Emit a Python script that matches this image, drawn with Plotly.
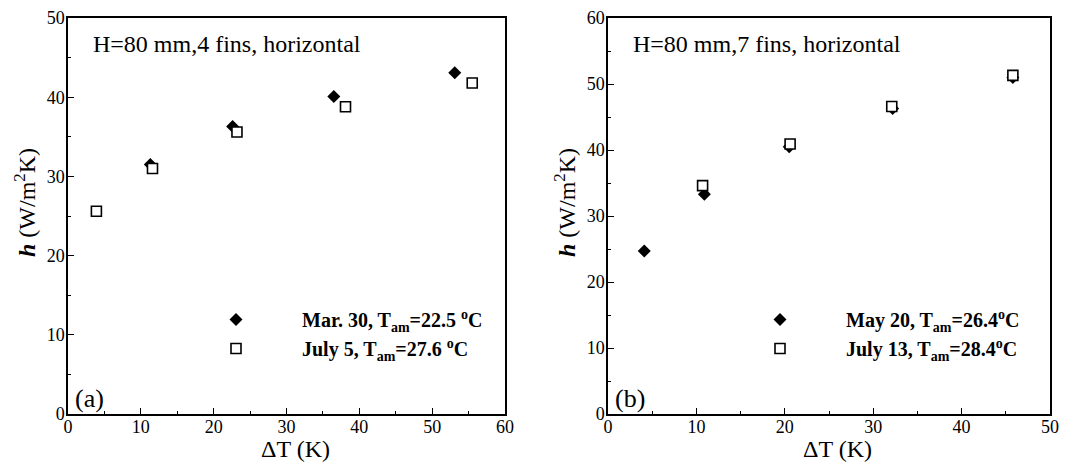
import plotly.graph_objects as go

# Panel (a): H=80 mm, 4 fins
a_mar_x = [11.3, 22.6, 36.5, 53.1]
a_mar_y = [31.5, 36.3, 40.1, 43.1]
a_jul_x = [3.9, 11.6, 23.2, 38.1, 55.5]
a_jul_y = [25.6, 31.0, 35.6, 38.8, 41.8]

# Panel (b): H=80 mm, 7 fins
b_may_x = [4.1, 10.9, 20.5, 32.2, 45.8]
b_may_y = [24.7, 33.3, 40.5, 46.3, 51.0]
b_jul_x = [10.7, 20.6, 32.1, 45.8]
b_jul_y = [34.6, 40.9, 46.6, 51.3]

names_a = ["<b>Mar. 30, T<sub>am</sub>=22.5 <sup>o</sup>C</b>", "<b>July 5, T<sub>am</sub>=27.6 <sup>o</sup>C</b>"]
names_b = ["<b>May 20, T<sub>am</sub>=26.4<sup>o</sup>C</b>", "<b>July 13, T<sub>am</sub>=28.4<sup>o</sup>C</b>"]
panel_titles = ["H=80 mm,4 fins, horizontal", "H=80 mm,7 fins, horizontal"]
panel_tags = ["(a)", "(b)"]
x_title = "ΔT (K)"
y_title = "<b><i>h</i></b> (W/m<sup>2</sup>K)"

FONT = "Liberation Serif"
OFF = 8                      # page body margin offset
W, H = 1075 - OFF, 464 - OFF

def px_x(p):
    return (p - OFF) / W

def px_y(p):
    return (H - (p - OFF)) / H

fig = go.Figure()
dia = dict(symbol="diamond", size=10, color="black", line=dict(width=0))
sq = dict(symbol="square", size=10, color="white", line=dict(width=1.6, color="black"))

fig.add_trace(go.Scatter(x=a_mar_x, y=a_mar_y, mode="markers", marker=dia, name=names_a[0],
                         xaxis="x", yaxis="y", legend="legend"))
fig.add_trace(go.Scatter(x=a_jul_x, y=a_jul_y, mode="markers", marker=sq, name=names_a[1],
                         xaxis="x", yaxis="y", legend="legend"))
fig.add_trace(go.Scatter(x=b_may_x, y=b_may_y, mode="markers", marker=dia, name=names_b[0],
                         xaxis="x2", yaxis="y2", legend="legend2"))
fig.add_trace(go.Scatter(x=b_jul_x, y=b_jul_y, mode="markers", marker=sq, name=names_b[1],
                         xaxis="x2", yaxis="y2", legend="legend2"))

common = dict(dtick=10, tick0=0, automargin=False,
              ticks="inside", ticklen=6, tickwidth=1.2, tickcolor="black",
              minor=dict(ticks="inside", ticklen=3, dtick=5, tickcolor="black", tickwidth=1),
              showline=True, linecolor="black", linewidth=1.5, mirror=True,
              showgrid=False, zeroline=False,
              tickfont=dict(family=FONT, size=18, color="black"))

def xax(domain, rng, anchor):
    return dict(domain=domain, range=rng, anchor=anchor, ticklabelstandoff=-4, **common)

def yax(domain, rng, anchor):
    return dict(domain=domain, range=rng, anchor=anchor, ticklabelstandoff=-2, **common)

xd1 = [px_x(68), px_x(505)]
xd2 = [px_x(608), px_x(1050)]
ydom = [px_y(414), px_y(18)]

ann = []
for i, (xr, yr) in enumerate([("x domain", "y domain"), ("x2 domain", "y2 domain")]):
    ann.append(dict(text=panel_titles[i], xref=xr, yref=yr, x=0.053, y=0.934,
                    xanchor="left", yanchor="middle", showarrow=False,
                    font=dict(family=FONT, size=24, color="black")))
    ann.append(dict(text=panel_tags[i], xref=xr, yref=yr, x=0.012, y=0.04,
                    xanchor="left", yanchor="middle", showarrow=False,
                    font=dict(family=FONT, size=26, color="black")))
for cx in (295, 837):
    ann.append(dict(text=x_title, xref="paper", yref="paper", x=px_x(cx), y=px_y(449),
                    xanchor="center", yanchor="middle", showarrow=False,
                    font=dict(family=FONT, size=24, color="black")))
for cx in (25, 565):
    ann.append(dict(text=y_title, xref="paper", yref="paper", x=px_x(cx), y=px_y(203),
                    xanchor="center", yanchor="middle", showarrow=False, textangle=-90,
                    font=dict(family=FONT, size=24, color="black")))

leg = dict(yanchor="top", xanchor="left", bgcolor="rgba(0,0,0,0)",
           font=dict(family=FONT, size=20, color="black"), itemwidth=122, tracegroupgap=0)
fig.update_layout(
    width=W, height=H,
    margin=dict(l=0, r=0, t=0, b=0),
    paper_bgcolor="white", plot_bgcolor="white",
    font=dict(family=FONT, color="black"),
    xaxis=xax(xd1, [0, 60], "y"),
    yaxis=yax(ydom, [0, 50], "x"),
    xaxis2=xax(xd2, [0, 50], "y2"),
    yaxis2=yax(ydom, [0, 60], "x2"),
    legend=dict(x=px_x(170), y=px_y(300), **leg),
    legend2=dict(x=px_x(714), y=px_y(300), **leg),
    annotations=ann,
)

fig.write_html("out.html")
